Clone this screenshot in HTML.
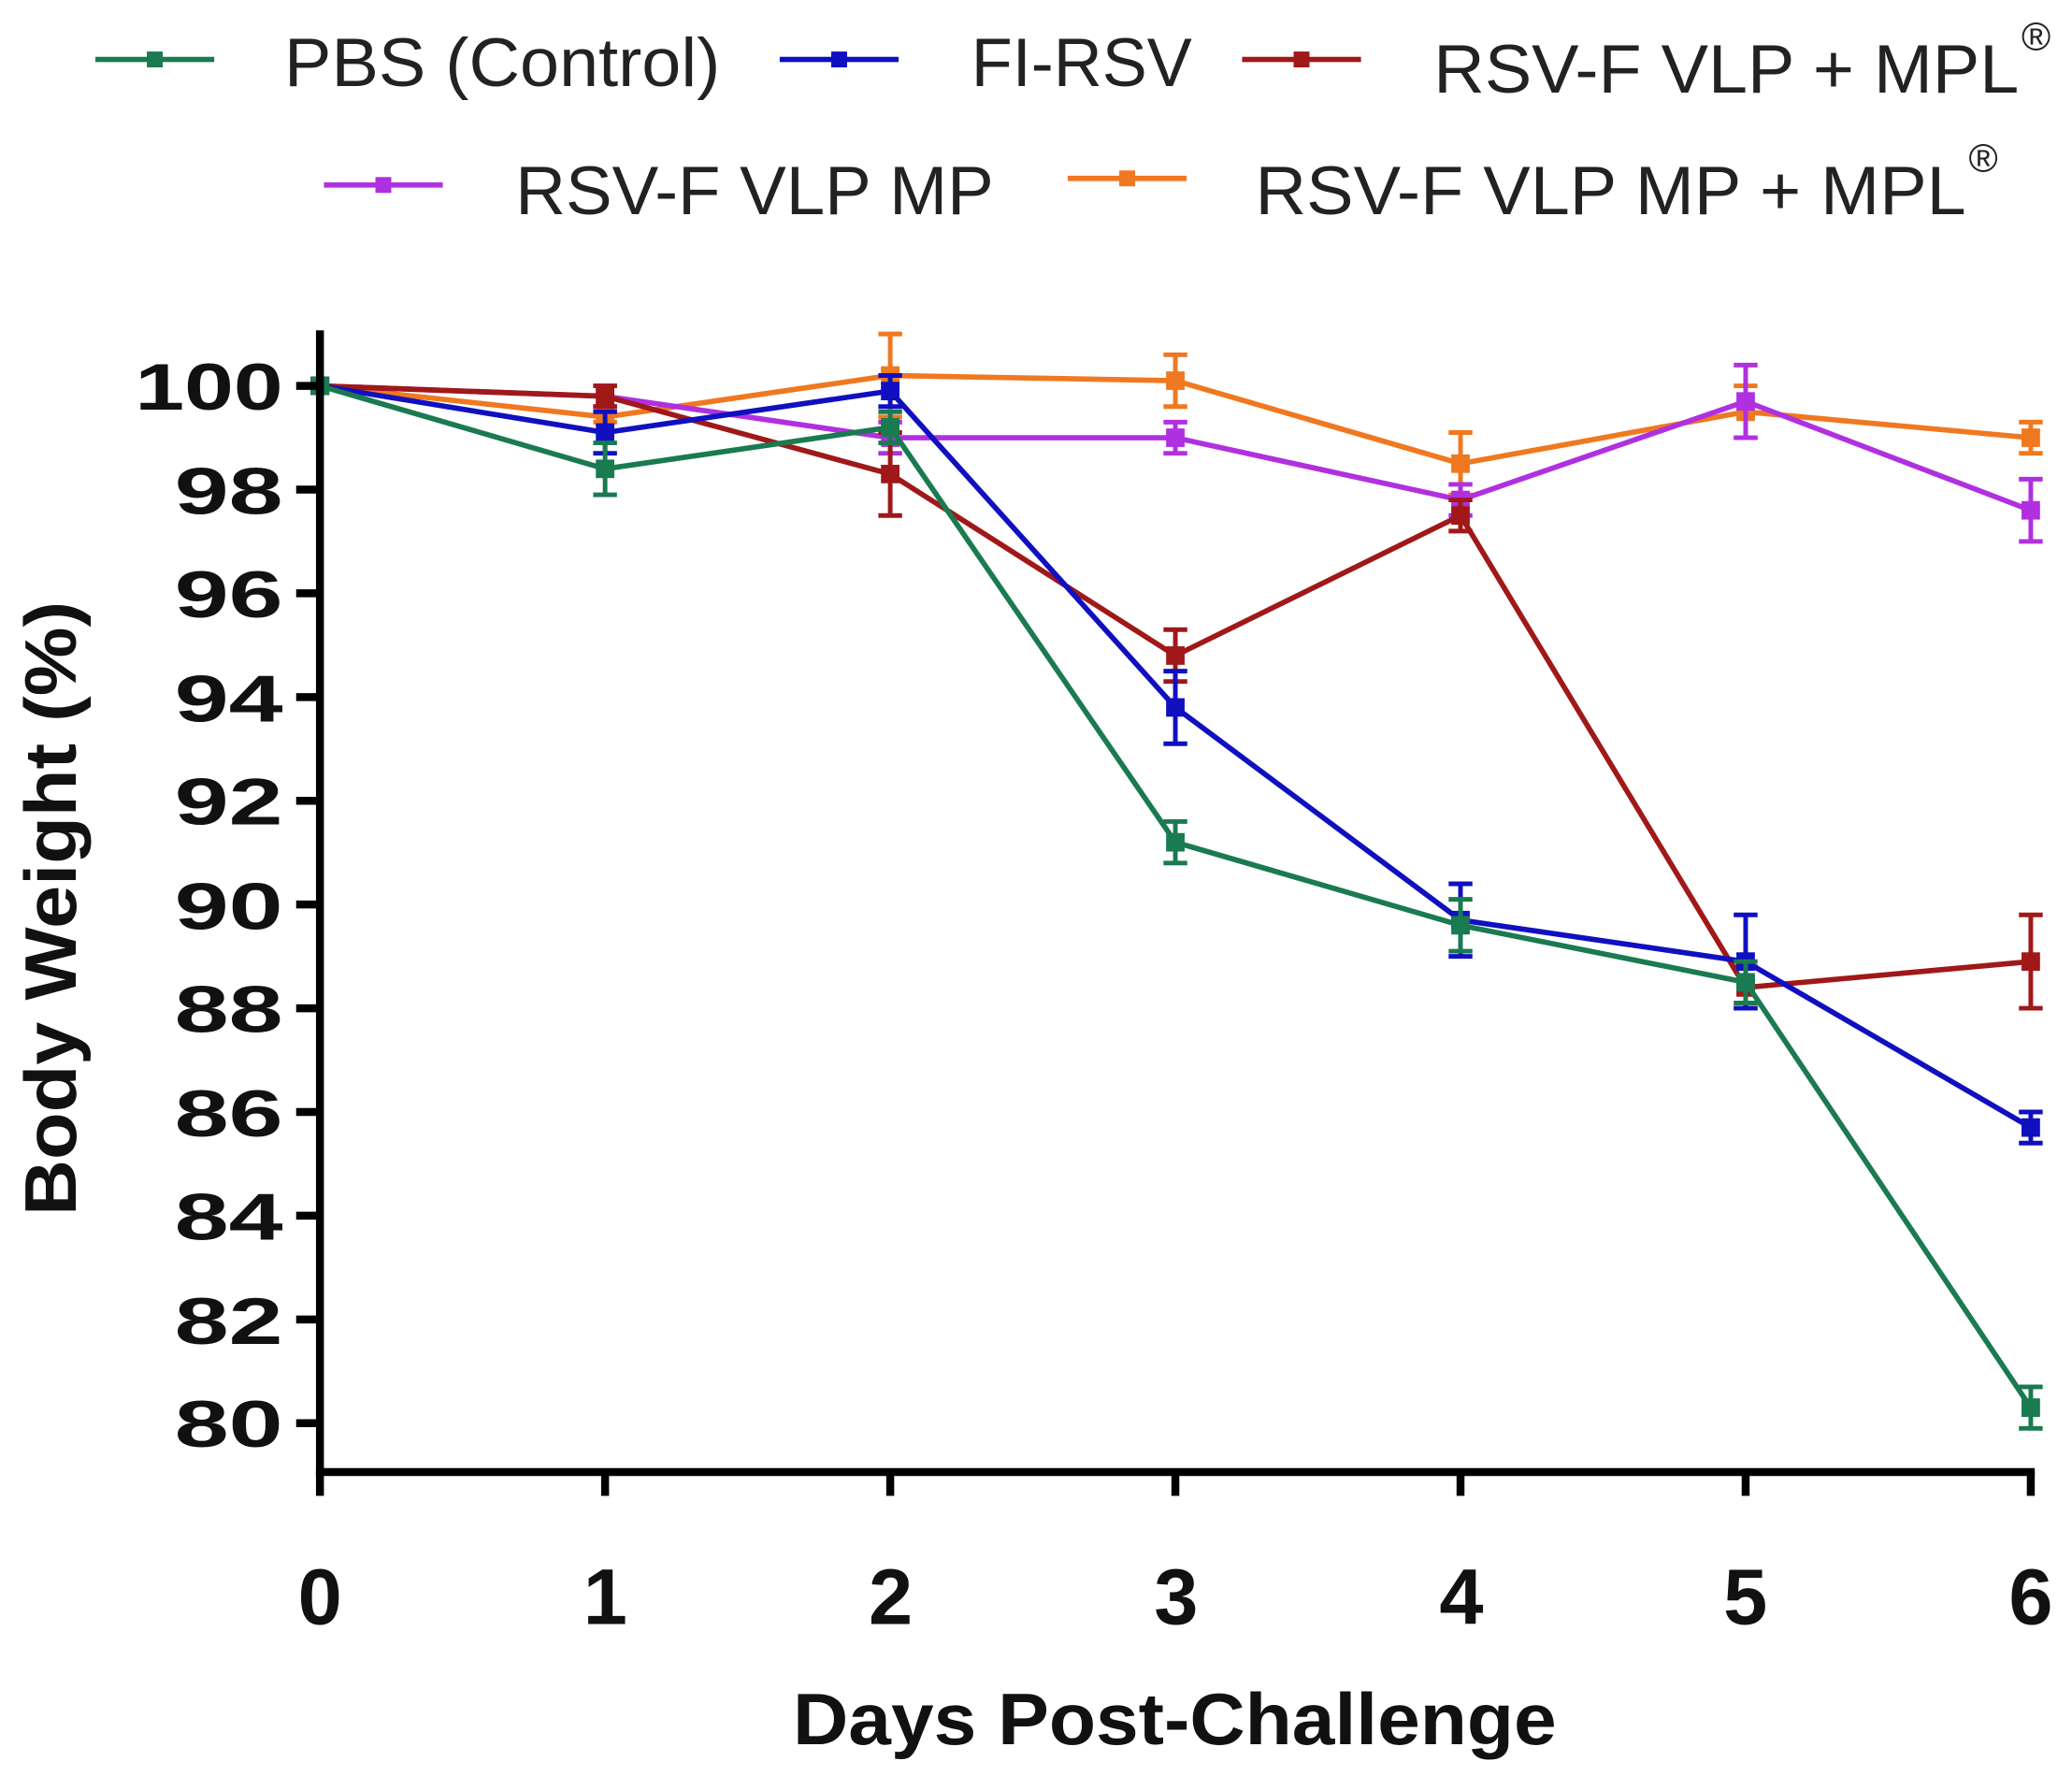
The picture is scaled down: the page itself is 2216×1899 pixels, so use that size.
<!DOCTYPE html>
<html><head><meta charset="utf-8"><style>html,body{margin:0;padding:0;background:#fff}svg{display:block}</style></head>
<body>
<svg id="s" xmlns="http://www.w3.org/2000/svg" width="2216" height="1899" viewBox="0 0 1568 1344" font-family="Liberation Sans, Arial, sans-serif">
<rect width="1568" height="1344" fill="#fff"/>
<g id="g"></g>
<line x1="242" y1="250" x2="242" y2="1117" stroke="#000" stroke-width="6"/>
<line x1="239" y1="1114" x2="1540" y2="1114" stroke="#000" stroke-width="6"/>
<g font-size="50" font-weight="bold" text-anchor="end" fill="#111" lengthAdjust="spacingAndGlyphs">
<text x="214" y="310" textLength="112" lengthAdjust="spacingAndGlyphs">100</text>
<text x="214" y="389" textLength="82" lengthAdjust="spacingAndGlyphs">98</text>
<text x="214" y="467" textLength="82" lengthAdjust="spacingAndGlyphs">96</text>
<text x="214" y="546" textLength="82" lengthAdjust="spacingAndGlyphs">94</text>
<text x="214" y="624" textLength="82" lengthAdjust="spacingAndGlyphs">92</text>
<text x="214" y="703" textLength="82" lengthAdjust="spacingAndGlyphs">90</text>
<text x="214" y="781" textLength="82" lengthAdjust="spacingAndGlyphs">88</text>
<text x="214" y="860" textLength="82" lengthAdjust="spacingAndGlyphs">86</text>
<text x="214" y="938" textLength="82" lengthAdjust="spacingAndGlyphs">84</text>
<text x="214" y="1017" textLength="82" lengthAdjust="spacingAndGlyphs">82</text>
<text x="214" y="1095" textLength="82" lengthAdjust="spacingAndGlyphs">80</text>
</g>
<g font-size="60" font-weight="bold" text-anchor="middle" fill="#111">
<text x="242" y="1229">0</text><text x="458" y="1229">1</text><text x="674" y="1229">2</text><text x="890" y="1229">3</text><text x="1106" y="1229">4</text><text x="1321" y="1229">5</text><text x="1537" y="1229">6</text>
</g>
<text x="600" y="1320" font-size="55" font-weight="bold" fill="#111" textLength="578" lengthAdjust="spacingAndGlyphs">Days Post-Challenge</text>
<text transform="translate(57,920) rotate(-90)" font-size="55" font-weight="bold" fill="#111" textLength="465" lengthAdjust="spacingAndGlyphs">Body Weight (%)</text>
<g font-size="52" fill="#222">
<line x1="72" y1="45" x2="162" y2="45" stroke="#1a7a50" stroke-width="4"/><rect x="111" y="39" width="12" height="12" fill="#1a7a50"/>
<text x="215" y="65" textLength="330" lengthAdjust="spacingAndGlyphs">PBS (Control)</text>
<line x1="590" y1="45" x2="680" y2="45" stroke="#1010c0" stroke-width="4"/><rect x="629" y="39" width="12" height="12" fill="#1010c0"/>
<text x="735" y="65" textLength="167" lengthAdjust="spacingAndGlyphs">FI-RSV</text>
<line x1="940" y1="45" x2="1030" y2="45" stroke="#a01818" stroke-width="4"/><rect x="979" y="39" width="12" height="12" fill="#a01818"/>
<text x="1085" y="70" textLength="443" lengthAdjust="spacingAndGlyphs">RSV-F VLP + MPL</text><text x="1530" y="38" font-size="30">®</text>
<line x1="245" y1="140" x2="335" y2="140" stroke="#b030e0" stroke-width="4"/><rect x="284" y="134" width="12" height="12" fill="#b030e0"/>
<text x="390" y="162" textLength="362" lengthAdjust="spacingAndGlyphs">RSV-F VLP MP</text>
<line x1="808" y1="135" x2="898" y2="135" stroke="#f07820" stroke-width="4"/><rect x="847" y="129" width="12" height="12" fill="#f07820"/>
<text x="950" y="162" textLength="538" lengthAdjust="spacingAndGlyphs">RSV-F VLP MP + MPL</text><text x="1490" y="130" font-size="30">®</text>
</g>
<script>
(function(){
var g=document.getElementById('g');var ns='http://www.w3.org/2000/svg';
function X(d){return 242+d*215.83;}function Y(v){return 292+(100-v)*39.25;}
var S=[
['#f07820',[100,99.4,100.2,100.1,98.5,99.5,99.0],[0,0.1,0.8,0.5,0.6,0.5,0.3]],
['#b030e0',[100,99.8,99.0,99.0,97.8,99.7,97.6],[0,0.2,0.3,0.3,0.3,0.7,0.6]],
['#a01818',[100,99.8,98.3,94.8,97.5,88.4,88.9],[0,0.2,0.8,0.5,0.3,0.4,0.9]],
['#1010c0',[100,99.1,99.9,93.8,89.7,88.9,85.7],[0,0.4,0.3,0.7,0.7,0.9,0.3]],
['#1a7a50',[100,98.4,99.2,91.2,89.6,88.5,80.3],[0,0.5,0.3,0.4,0.5,0.4,0.4]]];
S.forEach(function(s){
 var p='';s[1].forEach(function(v,i){p+=(i?'L':'M')+X(i)+','+Y(v);});
 var e=document.createElementNS(ns,'path');e.setAttribute('d',p);e.setAttribute('fill','none');e.setAttribute('stroke',s[0]);e.setAttribute('stroke-width','4');g.appendChild(e);
 s[1].forEach(function(v,i){
  var er=s[2][i];if(er>0){var x=X(i),a=Y(v+er),b=Y(v-er);
   var l=document.createElementNS(ns,'path');l.setAttribute('d','M'+x+','+a+'L'+x+','+b+'M'+(x-9)+','+a+'L'+(x+9)+','+a+'M'+(x-9)+','+b+'L'+(x+9)+','+b);
   l.setAttribute('stroke',s[0]);l.setAttribute('stroke-width','3.5');l.setAttribute('fill','none');g.appendChild(l);}
  var r=document.createElementNS(ns,'rect');r.setAttribute('x',X(i)-7);r.setAttribute('y',Y(v)-7);r.setAttribute('width',14);r.setAttribute('height',14);r.setAttribute('fill',s[0]);g.appendChild(r);
 });
});
for(var v=80;v<=100;v+=2){var t=document.createElementNS(ns,'line');t.setAttribute('x1',224);t.setAttribute('x2',242);t.setAttribute('y1',Y(v));t.setAttribute('y2',Y(v));t.setAttribute('stroke','#000');t.setAttribute('stroke-width','6');g.appendChild(t);}
for(var d=0;d<=6;d++){var t=document.createElementNS(ns,'line');t.setAttribute('x1',X(d));t.setAttribute('x2',X(d));t.setAttribute('y1',1114);t.setAttribute('y2',1132);t.setAttribute('stroke','#000');t.setAttribute('stroke-width','6');g.appendChild(t);}
})();
</script>
</svg>
</body></html>
